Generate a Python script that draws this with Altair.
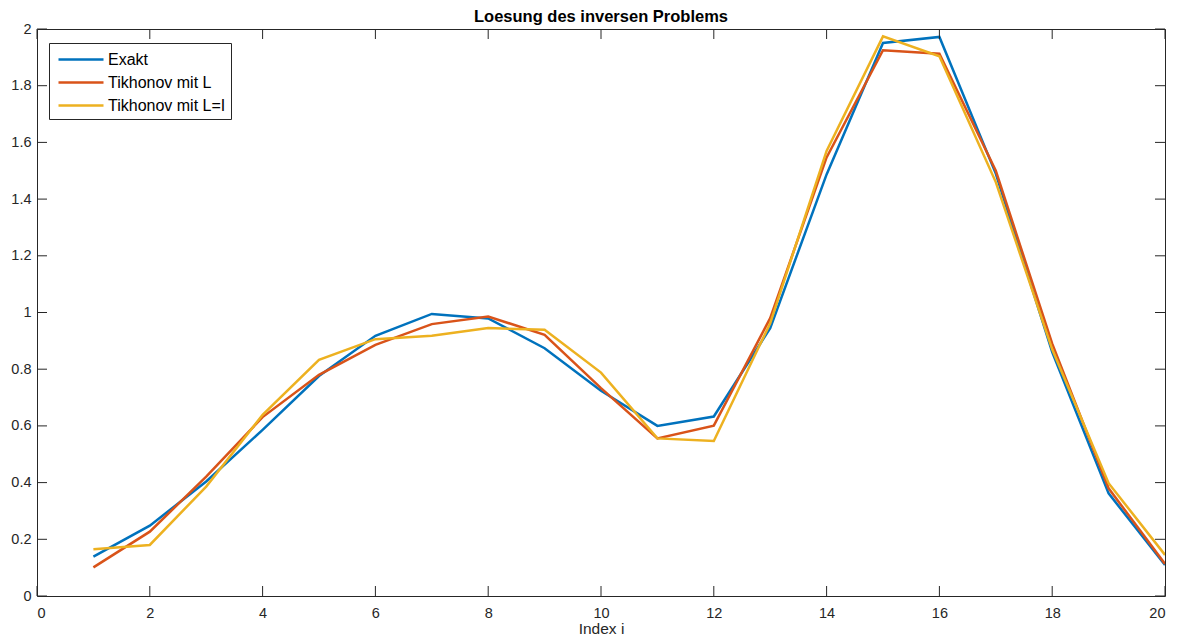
import altair as alt
import pandas as pd

# ---- data ----
index_i = list(range(1, 21))
exakt = [0.139, 0.248, 0.404, 0.586, 0.776, 0.918, 0.995, 0.979, 0.874, 0.724,
         0.600, 0.633, 0.945, 1.487, 1.951, 1.972, 1.490, 0.860, 0.362, 0.109]
tikhonov_L = [0.101, 0.227, 0.421, 0.631, 0.780, 0.886, 0.959, 0.986, 0.921, 0.733,
              0.556, 0.601, 0.980, 1.547, 1.925, 1.913, 1.500, 0.890, 0.380, 0.113]
tikhonov_I = [0.165, 0.180, 0.386, 0.639, 0.833, 0.906, 0.918, 0.945, 0.939, 0.788,
              0.556, 0.547, 0.962, 1.570, 1.974, 1.904, 1.460, 0.870, 0.398, 0.145]
series_names = ["Exakt", "Tikhonov mit L", "Tikhonov mit L=I"]
series_colors = ["#0072BD", "#D95319", "#EDB120"]
x_ticks = [0, 2, 4, 6, 8, 10, 12, 14, 16, 18, 20]
y_ticks = [0, 0.2, 0.4, 0.6, 0.8, 1.0, 1.2, 1.4, 1.6, 1.8, 2.0]

rows = []
for name, vals in zip(series_names, [exakt, tikhonov_L, tikhonov_I]):
    for i, v in zip(index_i, vals):
        rows.append({"i": i, "value": v, "series": name})
df = pd.DataFrame(rows)
xt = pd.DataFrame({"i": x_ticks})
yt = pd.DataFrame({"value": y_ticks})

W, H = 1128, 567
TL = 10
FONT = "Liberation Sans"
AX = "#262626"

xscale = alt.Scale(domain=[0, 20], nice=False, zero=False)
yscale = alt.Scale(domain=[0, 2], nice=False, zero=False)
xaxis = alt.Axis(values=x_ticks, tickSize=0, domain=False, grid=False,
                 labelPadding=10, titlePadding=2, format="d",
                 labelFont=FONT, labelFontSize=14.5, labelColor=AX,
                 titleFont=FONT, titleFontSize=15.5, titleColor=AX, titleFontWeight="normal")
yaxis = alt.Axis(values=y_ticks, tickSize=0, domain=False, grid=False,
                 labelPadding=6, format=".1~f",
                 labelFont=FONT, labelFontSize=14.5, labelColor=AX)
XE = alt.X("i:Q", scale=xscale, title="Index i", axis=xaxis)
YE = alt.Y("value:Q", scale=yscale, title=None, axis=yaxis)

lines = alt.Chart(df).mark_line(strokeWidth=2.5, clip=True).encode(
    x=XE, y=YE,
    color=alt.Color("series:N",
                    scale=alt.Scale(domain=series_names, range=series_colors),
                    legend=alt.Legend(title=None, orient="none", legendX=12, legendY=14,
                                      symbolType="M-0.7,0H3.8", symbolSize=400,
                                      symbolStrokeWidth=2.5, labelOffset=31,
                                      labelFontSize=16, labelFont=FONT, labelColor="#000000",
                                      strokeColor=AX, fillColor="#ffffff", padding=5,
                                      rowPadding=3, labelLimit=300)),
)

bottom_ticks = alt.Chart(xt).mark_rule(color=AX, strokeWidth=1).encode(
    x=XE, y=alt.value(H), y2=alt.value(H - TL))
top_ticks = alt.Chart(xt).mark_rule(color=AX, strokeWidth=1).encode(
    x=XE, y=alt.value(0), y2=alt.value(TL))
left_ticks = alt.Chart(yt).mark_rule(color=AX, strokeWidth=1).encode(
    y=YE, x=alt.value(0), x2=alt.value(TL))
right_ticks = alt.Chart(yt).mark_rule(color=AX, strokeWidth=1).encode(
    y=YE, x=alt.value(W - TL), x2=alt.value(W))

chart = alt.layer(lines, bottom_ticks, top_ticks, left_ticks, right_ticks).properties(
    width=W, height=H,
    background="#ffffff",
    autosize=alt.AutoSizeParams(type="none"),
    padding={"left": 29, "top": 21, "right": 4, "bottom": 44},
    title=alt.TitleParams("Loesung des inversen Problems", font=FONT, fontSize=16.5,
                          fontWeight="bold", color="#000000", offset=-4, anchor="middle"),
).configure_view(stroke=AX, strokeWidth=1)

chart.save("out.html", embed_options={"renderer": "svg", "actions": False})
